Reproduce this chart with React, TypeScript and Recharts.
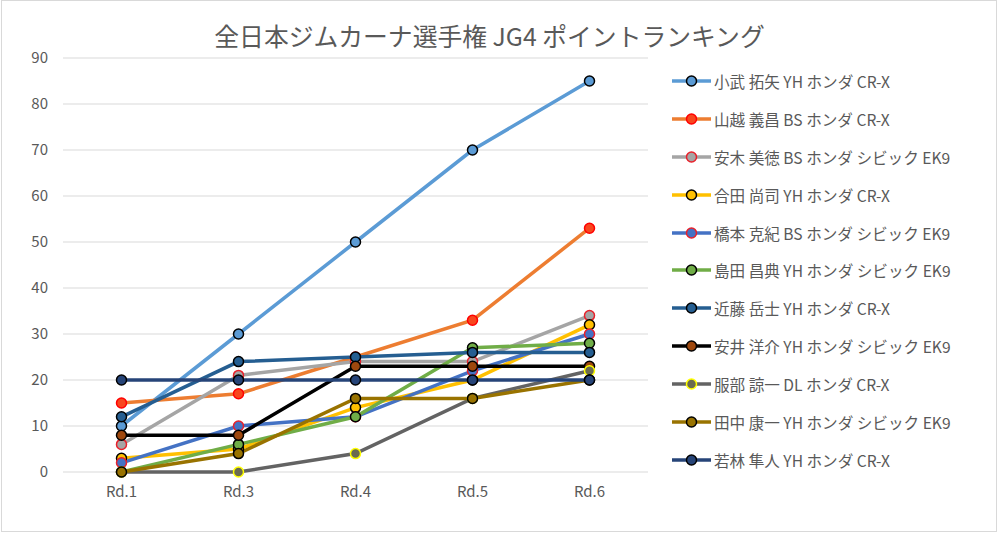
import React from "react";
import { LineChart, Line, XAxis, YAxis, CartesianGrid } from "recharts";

const rounds = ["Rd.1", "Rd.3", "Rd.4", "Rd.5", "Rd.6"];
const yTicks = [0, 10, 20, 30, 40, 50, 60, 70, 80, 90];

const names = [
  "小武 拓矢 YH ホンダ CR-X",
  "山越 義昌 BS ホンダ CR-X",
  "安木 美徳 BS ホンダ シビック EK9",
  "合田 尚司 YH ホンダ CR-X",
  "橋本 克紀 BS ホンダ シビック EK9",
  "島田 昌典 YH ホンダ シビック EK9",
  "近藤 岳士 YH ホンダ CR-X",
  "安井 洋介 YH ホンダ シビック EK9",
  "服部 諒一 DL ホンダ CR-X",
  "田中 康一 YH ホンダ シビック EK9",
  "若林 隼人 YH ホンダ CR-X",
];

const komu = [10, 30, 50, 70, 85];
const yamakoshi = [15, 17, 25, 33, 53];
const yasuki = [6, 21, 24, 24, 34];
const aida = [3, 5, 14, 20, 32];
const hashimoto = [2, 10, 12, 22, 30];
const shimada = [0, 6, 12, 27, 28];
const kondo = [12, 24, 25, 26, 26];
const yasui = [8, 8, 23, 23, 23];
const hattori = [0, 0, 4, 16, 22];
const tanaka = [0, 4, 16, 16, 20];
const wakabayashi = [20, 20, 20, 20, 20];

const seriesValues = [komu, yamakoshi, yasuki, aida, hashimoto, shimada, kondo, yasui, hattori, tanaka, wakabayashi];

const styles = [
  { line: "#5B9BD5", fill: "#5B9BD5", ring: "#000000" },
  { line: "#ED7D31", fill: "#F8461E", ring: "#FF0000" },
  { line: "#A5A5A5", fill: "#A5A5A5", ring: "#E8202A" },
  { line: "#FFC000", fill: "#FFC000", ring: "#000000" },
  { line: "#4472C4", fill: "#4472C4", ring: "#E8202A" },
  { line: "#70AD47", fill: "#70AD47", ring: "#000000" },
  { line: "#255E91", fill: "#255E91", ring: "#000000" },
  { line: "#000000", fill: "#9E480E", ring: "#000000" },
  { line: "#636363", fill: "#6B6B50", ring: "#FFFF00" },
  { line: "#997300", fill: "#997300", ring: "#000000" },
  { line: "#264478", fill: "#264478", ring: "#000000" },
];

const data = rounds.map((r, i) => {
  const row: Record<string, string | number> = { round: r };
  seriesValues.forEach((vals, s) => {
    row["s" + s] = vals[i];
  });
  return row;
});

const FONT = "'Noto Sans CJK JP', 'Noto Sans', sans-serif";
const TEXT = "#595959";

function LegendBox() {
  return (
    <div style={{ position: "absolute", left: 671, top: 62, width: 320, fontFamily: FONT, color: TEXT, fontSize: 15.6 }}>
      {names.map((n, i) => (
        <div key={n} style={{ height: 37.9, display: "flex", alignItems: "center" }}>
          <svg width={42} height={14} style={{ display: "block" }}>
            <line x1={1} y1={7} x2={40} y2={7} stroke={styles[i].line} strokeWidth={3.5} />
            <circle cx={20.5} cy={7} r={5} fill={styles[i].fill} stroke={styles[i].ring} strokeWidth={1.5} />
          </svg>
          <span style={{ marginLeft: 1, whiteSpace: "nowrap", lineHeight: "16px" }}>{n}</span>
        </div>
      ))}
    </div>
  );
}

export default function App() {
  return (
    <div style={{ position: "absolute", left: 0, top: 0, width: 999, height: 534, background: "#fff" }}>
      <div
        style={{
          position: "absolute",
          left: 1,
          top: 0,
          width: 996,
          height: 532,
          boxSizing: "border-box",
          border: "1px solid #D9D9D9",
        }}
      />
      <div
        style={{
          position: "absolute",
          left: 0,
          top: 18,
          width: 979,
          textAlign: "center",
          fontFamily: FONT,
          fontSize: 24.8,
          color: TEXT,
          lineHeight: "34px",
          whiteSpace: "nowrap",
        }}
      >
        全日本ジムカーナ選手権 JG4 ポイントランキング
      </div>
      <div style={{ position: "absolute", left: 0, top: 0 }}>
        <LineChart width={999} height={534} data={data} margin={{ top: 58, right: 351, left: 0, bottom: 32 }}>
          <CartesianGrid vertical={false} stroke="#D9D9D9" strokeWidth={1} />
          <XAxis
            dataKey="round"
            axisLine={false}
            tickLine={false}
            tickSize={0}
            tickMargin={14}
            height={30}
            padding={{ left: 58.5, right: 58.5 }}
            tick={{ fill: TEXT, fontSize: 15, fontFamily: FONT }}
          />
          <YAxis
            domain={[0, 90]}
            ticks={yTicks}
            width={63}
            axisLine={false}
            tickLine={false}
            tickSize={0}
            tickMargin={15}
            tick={{ fill: TEXT, fontSize: 15, fontFamily: FONT }}
          />
          {seriesValues.map((_, s) => (
            <Line
              key={s}
              type="linear"
              dataKey={"s" + s}
              name={names[s]}
              stroke={styles[s].line}
              strokeWidth={3.5}
              dot={{ r: 5, fill: styles[s].fill, stroke: styles[s].ring, strokeWidth: 1.5 }}
              activeDot={false}
              isAnimationActive={false}
            />
          ))}
        </LineChart>
      </div>
      <LegendBox />
    </div>
  );
}
